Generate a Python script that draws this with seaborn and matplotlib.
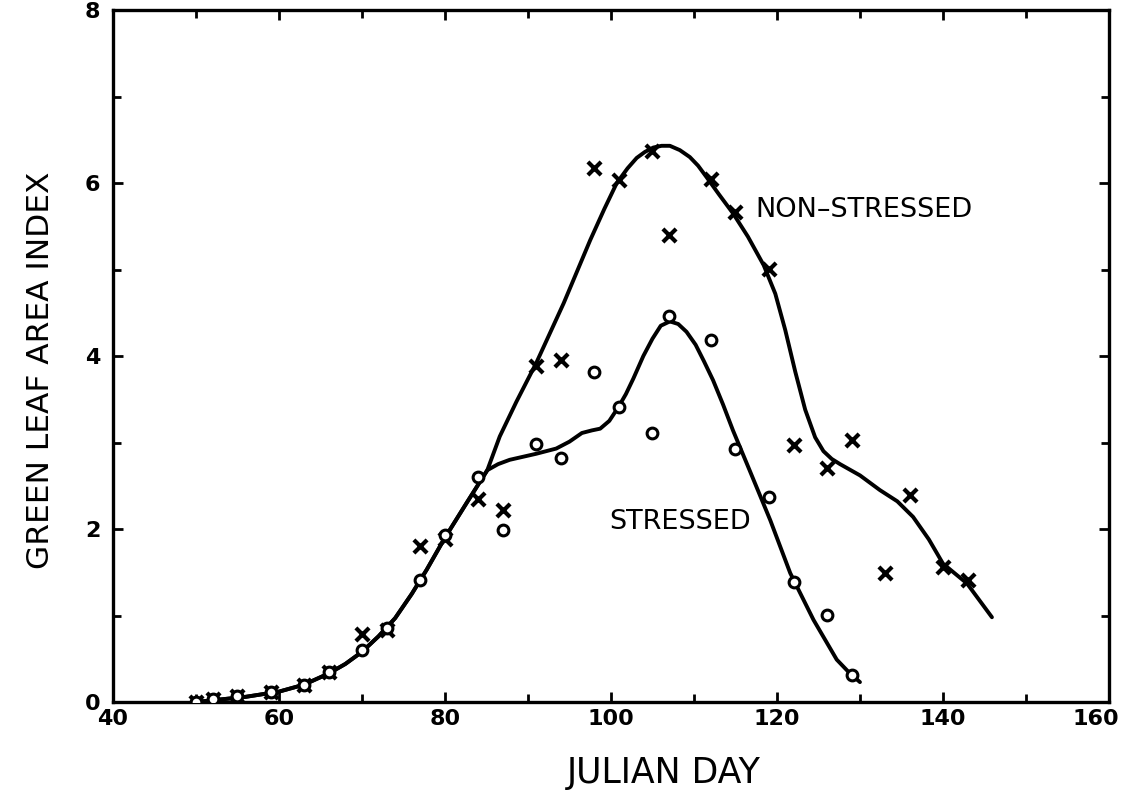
import numpy as np
import pandas as pd
import matplotlib
matplotlib.use("Agg")
import matplotlib.pyplot as plt
import matplotlib.transforms as mtransforms
import seaborn as sns

# ---- data ----
stressed_day = [50, 52, 55, 59, 63, 66, 70, 73, 77, 80, 84, 87, 91, 94, 98, 101, 105, 107, 112, 115, 119, 122, 126, 129]
stressed_lai = [0.0, 0.04, 0.07, 0.11, 0.20, 0.35, 0.60, 0.85, 1.41, 1.93, 2.60, 1.99, 2.98, 2.82, 3.81, 3.41, 3.11, 4.46, 4.18, 2.93, 2.37, 1.39, 1.01, 0.31]

nonstressed_day = [50, 52, 55, 59, 63, 66, 70, 73, 77, 80, 84, 87, 91, 94, 98, 101, 105, 107, 112, 115, 119, 122, 126, 129, 133, 136, 140, 143]
nonstressed_lai = [0.0, 0.04, 0.07, 0.11, 0.20, 0.35, 0.79, 0.83, 1.80, 1.88, 2.35, 2.22, 3.88, 3.95, 6.17, 6.03, 6.37, 5.40, 6.05, 5.66, 5.01, 2.97, 2.71, 3.03, 1.49, 2.39, 1.56, 1.41]

# fitted curves
curve_ns_day = [50, 53, 56, 60, 63, 66, 68, 70, 72, 74, 76, 77.8, 80, 82.6, 85.1, 86.6, 88.6, 91.0, 94.3, 97.5, 99.2, 100.7, 102.0, 103.1,
                104.1, 105.1, 106.1, 107.1, 108.3, 109.5, 110.5, 111.5, 113.0, 114.7, 116.5, 118.4, 119.8, 121.0, 122.2, 123.4,
                124.6, 125.6, 126.6, 127.6, 130, 132.4, 134.5, 136.4, 138.3, 140.0, 142.9, 145.9]
curve_ns_lai = [0.0, 0.03, 0.06, 0.12, 0.20, 0.33, 0.44, 0.58, 0.76, 0.97, 1.25, 1.53, 1.90, 2.30, 2.68, 3.07, 3.47, 3.92, 4.61, 5.34, 5.70, 6.00, 6.17, 6.29,
                6.36, 6.41, 6.43, 6.43, 6.38, 6.30, 6.20, 6.07, 5.87, 5.65, 5.38, 5.05, 4.72, 4.30, 3.82, 3.38,
                3.06, 2.90, 2.81, 2.75, 2.62, 2.45, 2.32, 2.14, 1.88, 1.60, 1.37, 0.98]

curve_s_day = [50, 53, 56, 60, 63, 66, 68, 70, 72, 74, 76, 77.8, 80, 82.6, 85.1, 86.4, 87.8, 91.0, 93.4, 95.0, 96.5, 97.7, 98.7, 99.8, 100.9, 101.8, 102.7,
               103.9, 105.0, 106.0, 107.1, 108.1, 109.1, 110.2, 111.2, 112.3, 113.5, 114.7, 116.7, 119.2, 121.6, 124.4, 127.2, 128.8, 130.0]
curve_s_lai = [0.0, 0.03, 0.06, 0.12, 0.20, 0.33, 0.44, 0.58, 0.76, 0.97, 1.25, 1.53, 1.90, 2.30, 2.68, 2.75, 2.80, 2.87, 2.93, 3.01, 3.11, 3.14, 3.16, 3.25, 3.41, 3.56, 3.74,
               4.00, 4.20, 4.35, 4.40, 4.37, 4.28, 4.13, 3.94, 3.72, 3.44, 3.14, 2.68, 2.10, 1.49, 0.95, 0.49, 0.33, 0.23]

x_ticks = [40, 60, 80, 100, 120, 140, 160]
y_ticks = [0, 2, 4, 6, 8]

sns.set_style("ticks")
plt.rcParams['font.family'] = ['DejaVu Sans']
plt.rcParams['text.color'] = 'black'
plt.rcParams['axes.labelcolor'] = 'black'

fig = plt.figure(figsize=(11.23, 8.07), dpi=100)
ax = fig.add_axes([0.1006, 0.1301, 0.8869, 0.8575])

df_ns_curve = pd.DataFrame({"day": curve_ns_day, "lai": curve_ns_lai})
df_s_curve = pd.DataFrame({"day": curve_s_day, "lai": curve_s_lai})
sns.lineplot(data=df_ns_curve, x="day", y="lai", sort=False, color="black", lw=2.8, ax=ax,
             solid_joinstyle="round", solid_capstyle="round")
sns.lineplot(data=df_s_curve, x="day", y="lai", sort=False, color="black", lw=2.8, ax=ax,
             solid_joinstyle="round", solid_capstyle="round")

df_s = pd.DataFrame({"day": stressed_day, "lai": stressed_lai})
df_ns = pd.DataFrame({"day": nonstressed_day, "lai": nonstressed_lai})
sns.scatterplot(data=df_ns, x="day", y="lai", marker="x", s=90, color="black", linewidth=3, ax=ax, zorder=3)
sns.scatterplot(data=df_s, x="day", y="lai", marker="o", s=60, facecolor="white", edgecolor="black",
                linewidth=2.2, ax=ax, zorder=4)

ax.text(117.4, 5.69, "NON\u2013STRESSED", fontsize=19.5, va="center", ha="left", color="black")
ax.text(99.8, 2.08, "STRESSED", fontsize=19.5, va="center", ha="left", color="black")

ax.set_xlim(40, 160)
ax.set_ylim(0, 8)
ax.set_xticks(x_ticks)
ax.set_xticks(np.arange(40, 161, 10), minor=True)
ax.set_yticks(y_ticks)
ax.set_yticks(np.arange(0, 9, 1), minor=True)
ax.set_xticklabels([str(t) for t in x_ticks], fontsize=16, fontweight="bold")
ax.set_yticklabels([str(t) for t in y_ticks], fontsize=16, fontweight="bold")
ax.tick_params(which="both", direction="in", top=True, right=True, width=2, colors="black")
ax.tick_params(which="major", length=7)
ax.tick_params(axis="x", which="major", pad=5)
ax.tick_params(axis="y", which="major", pad=9)
ax.tick_params(which="minor", length=6)
for sp in ax.spines.values():
    sp.set_linewidth(2.4)
    sp.set_color("black")

# keep the last x tick label inside the figure
last = ax.get_xticklabels()[-1]
last.set_horizontalalignment("right")
last.set_transform(last.get_transform() + mtransforms.ScaledTranslation(10 / 100, 0, fig.dpi_scale_trans))

ax.set_xlabel("JULIAN DAY", fontsize=25)
ax.xaxis.set_label_coords(0.553, -0.078)
ax.set_ylabel("GREEN LEAF AREA INDEX", fontsize=22.5)
ax.yaxis.set_label_coords(-0.058, 0.48)

fig.savefig("out.png", dpi=100)
